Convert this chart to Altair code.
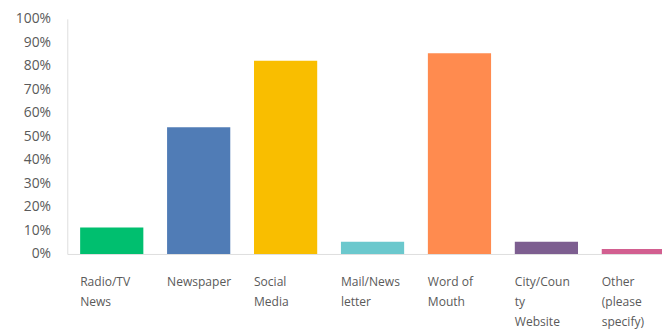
import altair as alt
import pandas as pd

categories = ["Radio/TV|News", "Newspaper", "Social|Media", "Mail/News|letter",
              "Word of|Mouth", "City/Coun|ty|Website", "Other|(please|specify)"]
values = [0.113, 0.539, 0.822, 0.052, 0.854, 0.052, 0.021]
colors = ["#00BF6F", "#507CB6", "#F9BE00", "#6BC8CD", "#FF8B4F", "#7D5E90", "#D25F90"]

df = pd.DataFrame({"cat": categories, "val": values})

chart = alt.Chart(df).mark_bar().encode(
    x=alt.X("cat:N", sort=categories, title=None,
            scale=alt.Scale(paddingInner=0.273, paddingOuter=0.148),
            axis=alt.Axis(labelExpr="split(datum.label, '|')", labelAngle=0,
                          labelAlign="left", labelOffset=-32, labelBaseline="top",
                          labelPadding=22, labelLineHeight=20, labelFontSize=12.2,
                          labelFont="Open Sans", labelColor="#5a5a5a",
                          ticks=False, domain=True, domainColor="#dddddd",
                          labelLimit=0)),
    y=alt.Y("val:Q", title=None,
            scale=alt.Scale(domain=[0, 1]),
            axis=alt.Axis(format=".0%", values=[i / 10 for i in range(11)],
                          grid=False, ticks=False, domain=True, domainColor="#dddddd",
                          labelFontSize=14, labelFont="Open Sans", labelColor="#5a5a5a",
                          labelPadding=17)),
    color=alt.Color("cat:N", sort=categories, legend=None,
                    scale=alt.Scale(domain=categories, range=colors)),
).properties(
    width=618, height=238,
    autosize=alt.AutoSizeParams(type="none"),
    padding={"left": 60, "top": 9, "right": -16, "bottom": 76},
).configure_view(stroke=None)

chart.save("out.html", embed_options={"renderer": "svg", "actions": False})
